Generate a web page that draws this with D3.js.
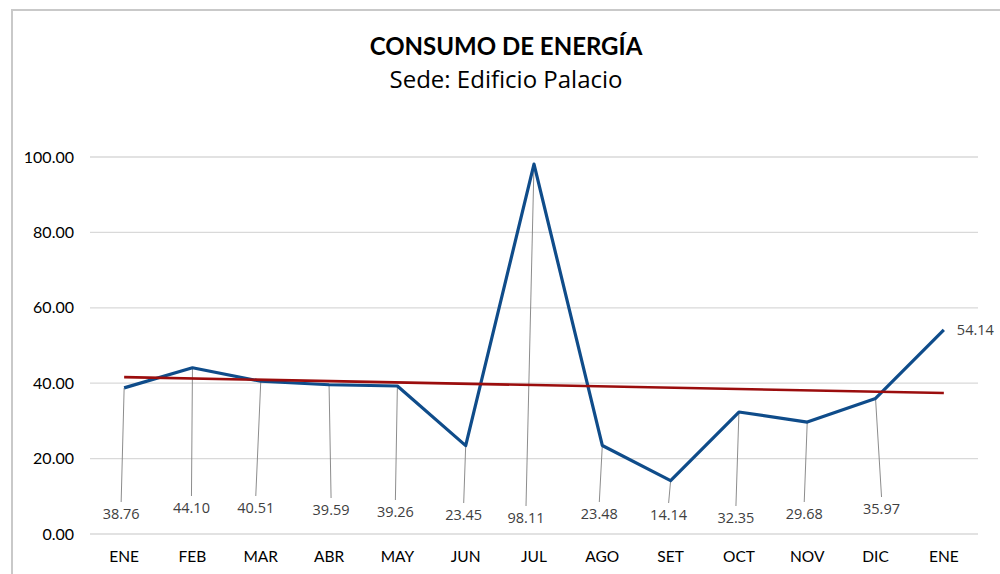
<!DOCTYPE html>
<html><head><meta charset="utf-8">
<script src="https://cdn.jsdelivr.net/npm/d3@7"></script>
<style>
html,body{margin:0;padding:0;background:#fff;}
svg{display:block;font-family:Lato,"Open Sans",sans-serif;}
</style></head>
<body>
<svg id="c" width="1000" height="574"></svg>
<script>
// ---- data ----
const months = ["ENE","FEB","MAR","ABR","MAY","JUN","JUL","AGO","SET","OCT","NOV","DIC","ENE"];
const consumo = [38.76,44.10,40.51,39.59,39.26,23.45,98.11,23.48,14.14,32.35,29.68,35.97,54.14];
const yTicks = [0,20,40,60,80,100];
const titleText = "CONSUMO DE ENERGÍA";
const subtitleText = "Sede: Edificio Palacio";

// label placement (layout: pixel offsets from category centre / label baseline row)
const labelDx = [-3,-1,-5,2,-2,-2,-8,-3,-2,-3,-3,6];
const labelY  = [513,507,507,509,511,514,517,513,514,517,513,508];

const svg = d3.select("#c");

// chart border
svg.append("path").attr("d","M12,574 L12,10 L1000,10")
  .attr("fill","none").attr("stroke","#c9c9c9").attr("stroke-width",2);

const x = d3.scaleBand().domain(d3.range(months.length)).range([90,978]).paddingInner(0).paddingOuter(0);
const cx = i => x(i) + x.bandwidth()/2;
const y = d3.scaleLinear().domain([0,100]).range([534,157]);

// gridlines
svg.append("g").selectAll("line").data(yTicks).join("line")
  .attr("x1",90).attr("x2",978)
  .attr("y1",d=>y(d)).attr("y2",d=>y(d))
  .attr("stroke","#d9d9d9").attr("stroke-width",1.3);

// y axis labels
const yAxis = d3.axisLeft(y).tickValues(yTicks).tickFormat(d3.format(".2f")).tickSize(0).tickPadding(16);
const ya = svg.append("g").attr("transform","translate(90,0)").call(yAxis);
ya.select(".domain").remove();
ya.selectAll("text").attr("font-family","Lato,sans-serif").attr("font-size",16).attr("fill","#000");

// x axis labels
const xAxis = d3.axisBottom(x).tickFormat(i=>months[i]).tickSize(0).tickPadding(17);
const xa = svg.append("g").attr("transform","translate(0,534)").call(xAxis);
xa.select(".domain").remove();
xa.selectAll("text").attr("font-family","Lato,sans-serif").attr("font-size",15.5).attr("fill","#000");

// leader lines
const leaders = consumo.slice(0,12);
svg.append("g").selectAll("line").data(leaders).join("line")
  .attr("x1",(d,i)=>cx(i)).attr("y1",d=>y(d))
  .attr("x2",(d,i)=>cx(i)+labelDx[i]).attr("y2",(d,i)=>labelY[i]-11)
  .attr("stroke","#7f7f7f").attr("stroke-width",0.9);

// main line
const line = d3.line().x((d,i)=>cx(i)).y(d=>y(d));
svg.append("path").datum(consumo).attr("d",line)
  .attr("fill","none").attr("stroke","#0f4c8a").attr("stroke-width",3.2)
  .attr("stroke-linejoin","round");

// linear trendline (least squares over the series)
const n = consumo.length;
const xs = d3.range(1,n+1);
const mx = d3.mean(xs), my = d3.mean(consumo);
const slope = d3.sum(xs,(xv,i)=>(xv-mx)*(consumo[i]-my))/d3.sum(xs,xv=>(xv-mx)*(xv-mx));
const icpt = my - slope*mx;
const trend = [icpt+slope*1, icpt+slope*n];
svg.append("line")
  .attr("x1",cx(0)).attr("y1",y(trend[0]))
  .attr("x2",cx(n-1)).attr("y2",y(trend[1]))
  .attr("stroke","#9b0d0d").attr("stroke-width",2.6);

// data labels
const lab = svg.append("g").attr("font-family","'Open Sans',sans-serif").attr("font-size",14.5).attr("fill","#404040");
lab.selectAll("text").data(leaders).join("text")
  .attr("x",(d,i)=>cx(i)+labelDx[i]).attr("y",(d,i)=>labelY[i])
  .attr("text-anchor","middle").attr("dominant-baseline","central")
  .text(d=>d3.format(".2f")(d));
lab.append("text").attr("x",cx(n-1)+13).attr("y",y(consumo[n-1]))
  .attr("dominant-baseline","central").text(d3.format(".2f")(consumo[n-1]));

// titles
svg.append("text").attr("x",506).attr("y",45).attr("text-anchor","middle")
  .attr("font-family","Lato,sans-serif").attr("font-weight","bold").attr("font-size",24).attr("fill","#000")
  .attr("dominant-baseline","central").text(titleText);
svg.append("text").attr("x",506).attr("y",78).attr("text-anchor","middle")
  .attr("font-family","'Open Sans',sans-serif").attr("font-size",24).attr("fill","#000")
  .attr("dominant-baseline","central").text(subtitleText);
</script>
</body></html>
